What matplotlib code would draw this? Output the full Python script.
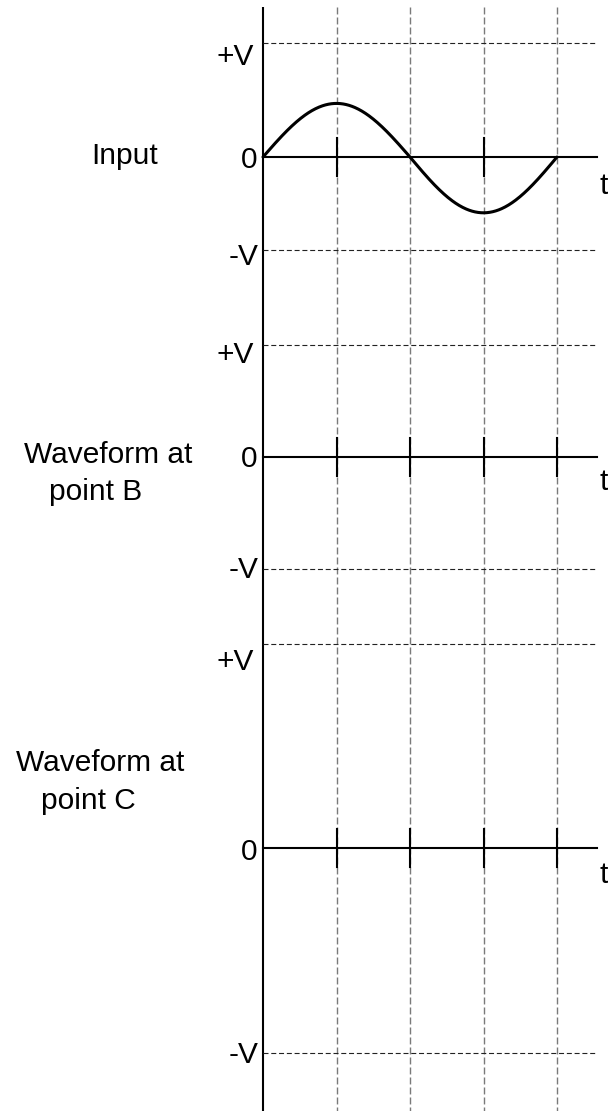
import numpy as np
import matplotlib.pyplot as plt

plt.rcParams['font.family'] = ['Liberation Sans', 'DejaVu Sans']

# text / values
panel_names = [["Input"], ["Waveform at", "point B"], ["Waveform at", "point C"]]
level_labels = ["+V", "0", "-V"]
grid_times = [1, 2, 3, 4]
tick_times = [[1, 3], [1, 2, 3, 4], [1, 2, 3, 4]]
input_peak = 0.47     # fraction of +V
input_trough = 0.60   # fraction of -V
input_period = 4

# layout (pixel rows from top of the image)
zero_rows = [157, 457, 848]
plus_rows = [43, 345, 644]
minus_rows = [250, 569, 1053]
plus_base = [65, 363, 670]
zero_base = [168, 467, 860]
minus_base = [265, 578, 1063]
t_base = [194, 490, 883]
name_pos = [[(125, 164)], [(108, 463), (96, 500)], [(100, 771), (88, 809)]]

W, H = 608, 1111
X0, DX = 263, 73.5   # x pixel of t=0 and pixels per time unit


def tx(px):
    return (px - X0) / DX


fig = plt.figure(figsize=(W / 100, H / 100), dpi=100)
ax = fig.add_axes([0, 0, 1, 1])
ax.set_xlim(tx(0), tx(W))
ax.set_ylim(H, 0)
ax.axis('off')

fs = 21.5

# vertical axis and vertical grid
ax.plot([0, 0], [7, H], color='black', lw=1.5, solid_capstyle='butt')
for g in grid_times:
    ax.plot([g, g], [7, H], color='#7a7a7a', lw=1.0, dashes=(5, 2.2))

for i in range(3):
    z = zero_rows[i]
    for r in (plus_rows[i], minus_rows[i]):
        ax.plot([0, tx(595)], [r, r], color='#222222', lw=0.8, dashes=(4.5, 2.5))
    ax.plot([0, tx(597)], [z, z], color='black', lw=1.5)
    for tt in tick_times[i]:
        ax.plot([tt, tt], [z - 19, z + 19], color='black', lw=1.5)

    ax.text(tx(254), plus_base[i], level_labels[0], ha='right', va='baseline', fontsize=fs)
    ax.text(tx(257), zero_base[i], level_labels[1], ha='right', va='baseline', fontsize=fs)
    ax.text(tx(259), minus_base[i], level_labels[2], ha='right', va='baseline', fontsize=fs)
    ax.text(tx(604), t_base[i], "t", ha='center', va='baseline', fontsize=fs)

    for line, (px, py) in zip(panel_names[i], name_pos[i]):
        ax.text(tx(px), py, line, ha='center', va='baseline', fontsize=fs)

# input sine
t = np.linspace(0, input_period, 500)
s = np.sin(2 * np.pi * t / input_period)
z, up, dn = zero_rows[0], zero_rows[0] - plus_rows[0], minus_rows[0] - zero_rows[0]
rows = np.where(s > 0, z - s * input_peak * up, z - s * input_trough * dn)
ax.plot(t, rows, color='black', lw=2.2, solid_capstyle='round')

fig.savefig('out.png', dpi=100)
